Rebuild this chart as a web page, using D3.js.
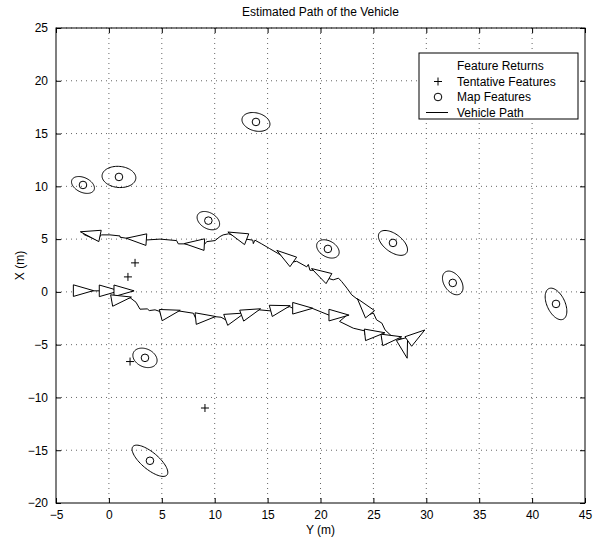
<!DOCTYPE html>
<html>
<head>
<meta charset="utf-8">
<script src="https://cdn.jsdelivr.net/npm/d3@7"></script>
<style>
  body { margin: 0; background: #fff; }
  text { font-family: "Liberation Sans", Arial, sans-serif; font-size: 12px; fill: #000; }
</style>
</head>
<body>
<div class="chart"></div>
<script>
    /*Data (horizontal axis is Y, vertical axis is X)*/

    const yTickVals = [-5, 0, 5, 10, 15, 20, 25, 30, 35, 40, 45];
    const xTickVals = [-20, -15, -10, -5, 0, 5, 10, 15, 20, 25];

    // map features: [Y, X, semi-major, semi-minor, angle deg]
    const mapFeatures = [
        [-2.45, 10.13, 1.15, 0.70, -25],
        [0.95, 10.89, 1.60, 1.00, -5],
        [13.9, 16.1, 1.35, 0.85, -15],
        [9.4, 6.75, 1.15, 0.75, -30],
        [20.7, 4.07, 1.15, 0.75, -30],
        [26.85, 4.64, 1.60, 0.85, -37],
        [32.5, 0.85, 1.25, 0.80, -55],
        [42.26, -1.14, 1.60, 0.85, -65],
        [3.41, -6.25, 1.20, 0.85, -25],
        [3.88, -16.0, 2.10, 0.80, -40]
    ];

    // tentative features: [Y, X]
    const tentative = [[2.47, 2.75], [1.8, 1.42], [2.0, -6.6], [9.08, -11.0]];

    // vehicle path: [Y, X]
    const vehiclePath = [
        [-3.36, 0.12], [-1.5, 0.1], [0.5, 0.1], [2.3, 0.1], [1.4, 0.05],
        [0.26, -0.82], [2.0, -0.55], [2.56, -0.98], [2.94, -1.64], [3.63, -1.61],
        [3.82, -1.77], [4.36, -1.7], [4.83, -1.86], [4.9, -2.2], [6.56, -1.8],
        [7.98, -2.02], [8.2, -2.5], [9.93, -2.34], [10.6, -2.4], [11.04, -2.65],
        [12.55, -2.2], [14.2, -1.7], [15.3, -1.8], [17.1, -1.4], [17.37, -1.55],
        [19.2, -1.55], [20.8, -2.2], [22.5, -2.2], [21.8, -2.8], [23.1, -3.44],
        [24.2, -3.7], [24.2, -4.07], [25.8, -4.0], [25.8, -4.5], [27.35, -4.33],
        [27.7, -4.45], [28.3, -4.7], [29.3, -4.1], [27.8, -4.7], [27.2, -4.4],
        [26.6, -4.07], [26.1, -3.6], [25.8, -2.96], [25.3, -2.65], [25.0, -2.0],
        [24.68, -2.12], [23.57, -0.76], [22.95, -0.28], [22.5, 0.35], [22.0, 0.98],
        [21.7, 1.3], [21.2, 1.14], [20.8, 1.26], [19.3, 2.05], [19.0, 2.05],
        [18.85, 2.6], [18.7, 2.37], [17.75, 2.9], [17.43, 2.84], [16.0, 3.63],
        [15.2, 4.1], [14.4, 4.57], [13.8, 4.9], [13.65, 4.57], [13.6, 4.9],
        [13.02, 4.99], [11.3, 5.5], [10.8, 5.4], [10.5, 5.24], [10.03, 4.86],
        [9.24, 4.76], [9.02, 4.48], [7.5, 4.55], [6.56, 4.55], [6.4, 4.86],
        [4.83, 5.0], [3.57, 4.92], [3.54, 4.95], [1.68, 5.08], [1.05, 5.18],
        [1.05, 5.3], [0.1, 5.4], [-0.68, 5.4], [-0.84, 5.3], [-1.0, 4.85], [-2.4, 5.45]
    ];

    // vehicle poses: [Y, X, heading deg]
    const poses = [
        [-3.36, 0.12, 0], [-0.91, 0.1, 0], [0.48, 0.1, 0], [0.26, -0.82, 10],
        [4.9, -2.2, 14], [8.2, -2.53, 6], [11.04, -2.65, 20], [12.55, -2.25, 20],
        [15.3, -1.8, 15], [17.37, -1.55, 0], [20.8, -2.2, 0], [24.2, -4.07, 6],
        [25.8, -4.55, 9], [27.7, -4.45, -75], [28.3, -4.7, 35],
        [24.68, -2.12, 129], [20.8, 1.26, 150], [17.43, 2.84, 145], [13.02, 4.99, 159],
        [9.02, 4.48, 177], [3.54, 4.95, 176], [-0.84, 5.3, 168]
    ];

    const legendLabels = ["Feature Returns", "Tentative Features", "Map Features", "Vehicle Path"];

    /*Chart area*/

    let margin = {top: 28, bottom: 35, left: 56, right: 11};
    const W = 596, H = 538;
    const width = W - margin.left - margin.right,
    height = H - margin.top - margin.bottom;

    const svg = d3.select(".chart").append("svg")
    .attr("width", W)
    .attr("height", H)
    .append("g")
    .attr("transform", "translate(" + margin.left + "," + margin.top + ")");

    const xScale = d3.scaleLinear().domain([-5, 45]).range([0, width]);
    const yScale = d3.scaleLinear().domain([-20, 25]).range([height, 0]);

    /*Grid*/
    svg.append("g").selectAll("line")
    .data(yTickVals.slice(1, -1))
    .enter().append("line")
    .attr("x1", d => xScale(d)).attr("x2", d => xScale(d))
    .attr("y1", 0).attr("y2", height)
    .attr("stroke", "#666").attr("stroke-width", 1).attr("stroke-dasharray", "1,4");

    svg.append("g").selectAll("line")
    .data(xTickVals.slice(1))
    .enter().append("line")
    .attr("y1", d => yScale(d)).attr("y2", d => yScale(d))
    .attr("x1", 0).attr("x2", width)
    .attr("stroke", "#666").attr("stroke-width", 1).attr("stroke-dasharray", "1,4");

    /*Axes*/
    const fmt = d3.format("");
    const xAxis = d3.axisBottom(xScale).tickValues(yTickVals).tickSize(-5).tickPadding(7).tickFormat(fmt);
    const yAxis = d3.axisLeft(yScale).tickValues(xTickVals).tickSize(-5).tickPadding(8).tickFormat(fmt);

    svg.append("g").attr("transform", `translate(0, ${height})`).call(xAxis);
    svg.append("g").call(yAxis);
    svg.append("g").call(d3.axisTop(xScale).tickValues(yTickVals).tickSize(-5).tickFormat(""));
    svg.append("g").attr("transform", `translate(${width}, 0)`)
    .call(d3.axisRight(yScale).tickValues(xTickVals).tickSize(-5).tickFormat(""));

    svg.selectAll(".domain").remove();
    svg.selectAll(".tick line").attr("stroke", "#000");
    svg.selectAll(".tick text")
    .style("font-family", '"Liberation Sans", Arial, sans-serif')
    .style("font-size", "12px").attr("fill", "#000");

    svg.append("rect")
    .attr("width", width).attr("height", height)
    .attr("fill", "none").attr("stroke", "#000").attr("stroke-width", 1);

    /*Titles*/
    svg.append("text").attr("x", width / 2).attr("y", -12)
    .attr("text-anchor", "middle").text("Estimated Path of the Vehicle");
    svg.append("text").attr("x", width / 2).attr("y", height + 31)
    .attr("text-anchor", "middle").text("Y (m)");
    svg.append("text")
    .attr("transform", `translate(${-32}, ${height / 2}) rotate(-90)`)
    .attr("text-anchor", "middle").text("X (m)");

    /*Clip*/
    svg.append("clipPath").attr("id", "clip")
    .append("rect").attr("width", width).attr("height", height);
    const plot = svg.append("g").attr("clip-path", "url(#clip)");

    /*Vehicle path*/
    const line = d3.line().x(d => xScale(d[0])).y(d => yScale(d[1]));
    plot.append("path")
    .datum(vehiclePath)
    .attr("d", line)
    .attr("fill", "none").attr("stroke", "#000").attr("stroke-width", 1);

    /*Vehicle triangles*/
    const triLen = 1.9, triHalf = 0.55;
    plot.selectAll(".tri")
    .data(poses)
    .enter().append("path")
    .attr("class", "tri")
    .attr("d", d => {
        const h = d[2] * Math.PI / 180;
        const c = Math.cos(h), s = Math.sin(h);
        const pts = [
            [d[0] - s * triHalf, d[1] + c * triHalf],
            [d[0] + s * triHalf, d[1] - c * triHalf],
            [d[0] + c * triLen, d[1] + s * triLen]
        ];
        return line(pts) + "Z";
    })
    .attr("fill", "#fff").attr("stroke", "#000").attr("stroke-width", 1);

    /*Map features: ellipses + circles*/
    const tSteps = d3.range(0, 73).map(i => i / 72 * 2 * Math.PI);
    plot.selectAll(".ell")
    .data(mapFeatures)
    .enter().append("path")
    .attr("class", "ell")
    .attr("d", d => {
        const th = d[4] * Math.PI / 180;
        const pts = tSteps.map(t => [
            d[0] + d[2] * Math.cos(t) * Math.cos(th) - d[3] * Math.sin(t) * Math.sin(th),
            d[1] + d[2] * Math.cos(t) * Math.sin(th) + d[3] * Math.sin(t) * Math.cos(th)
        ]);
        return line(pts) + "Z";
    })
    .attr("fill", "none").attr("stroke", "#000").attr("stroke-width", 1);

    plot.selectAll(".mf")
    .data(mapFeatures)
    .enter().append("circle")
    .attr("cx", d => xScale(d[0])).attr("cy", d => yScale(d[1]))
    .attr("r", 3.8)
    .attr("fill", "none").attr("stroke", "#000").attr("stroke-width", 1);

    /*Tentative features*/
    plot.selectAll(".tf")
    .data(tentative)
    .enter().append("path")
    .attr("d", d => {
        const px = xScale(d[0]), py = yScale(d[1]);
        return `M${px - 4},${py}H${px + 4}M${px},${py - 4}V${py + 4}`;
    })
    .attr("stroke", "#000").attr("stroke-width", 1);

    /*Legend*/
    const lg = svg.append("g").attr("transform", `translate(${419 - margin.left}, ${53 - margin.top})`);
    lg.append("rect").attr("width", 159).attr("height", 66)
    .attr("fill", "#fff").attr("stroke", "#000").attr("stroke-width", 1);
    legendLabels.forEach((t, i) => {
        lg.append("text").attr("x", 38).attr("y", 13 + i * 15.5).attr("dy", "0.35em").text(t);
    });
    lg.append("path").attr("d", `M15,${28.5}H23M19,${24.5}V${32.5}`).attr("stroke", "#000");
    lg.append("circle").attr("cx", 19).attr("cy", 44).attr("r", 3.8)
    .attr("fill", "none").attr("stroke", "#000");
    lg.append("line").attr("x1", 7).attr("x2", 29).attr("y1", 59.5).attr("y2", 59.5)
    .attr("stroke", "#000");
</script>
</body>
</html>
